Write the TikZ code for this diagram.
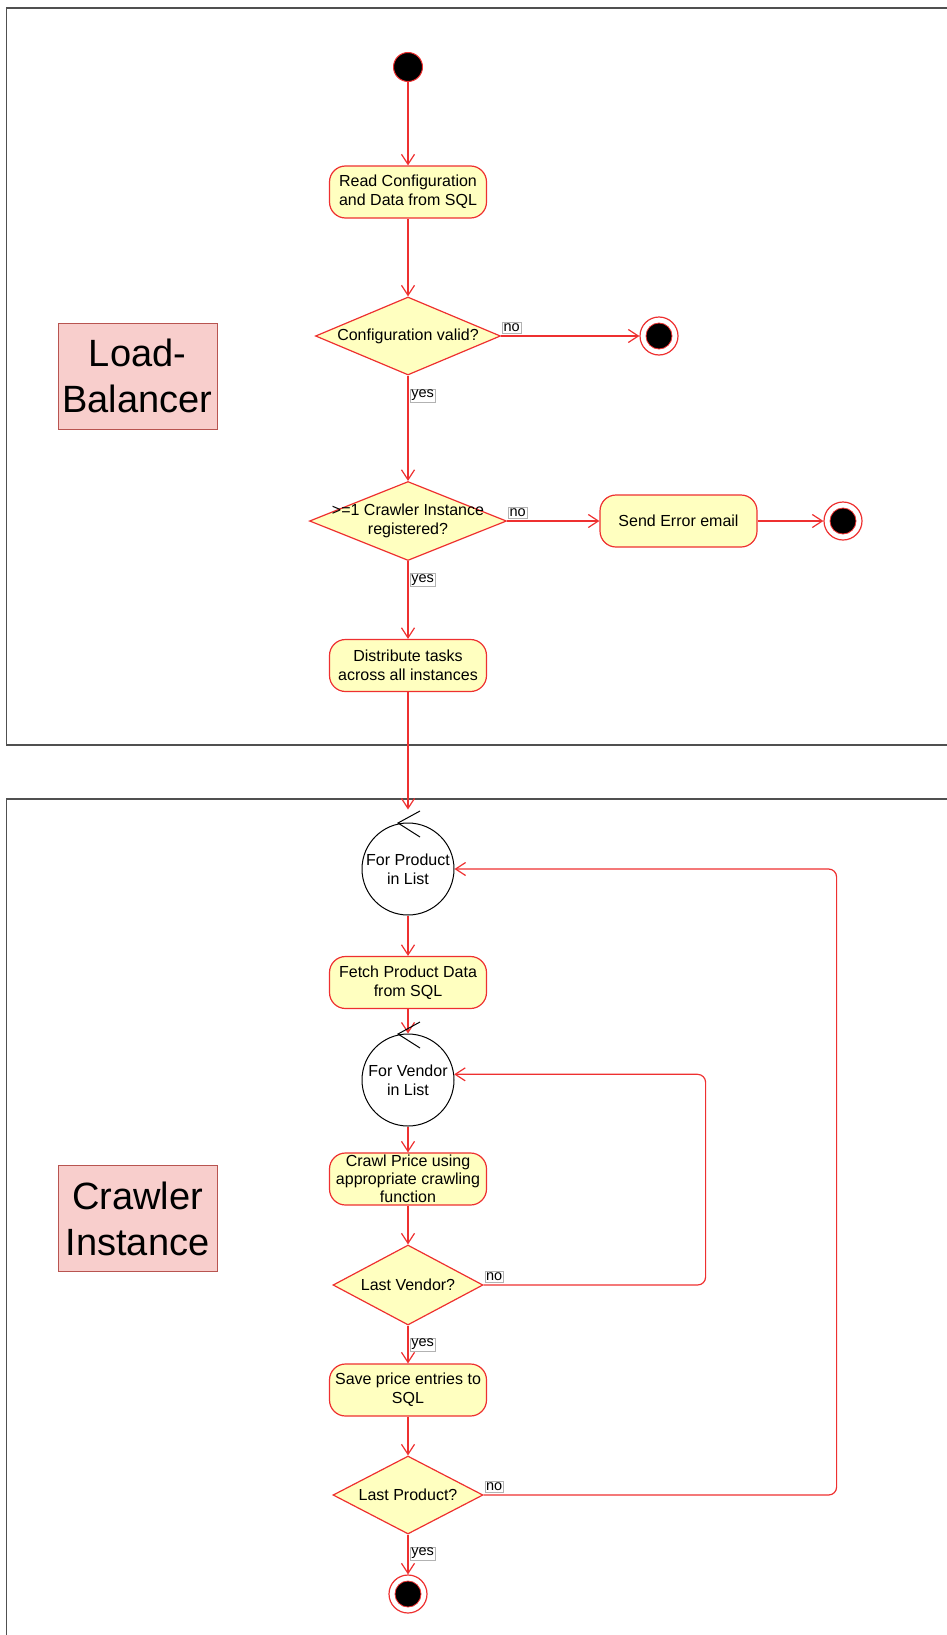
\documentclass[tikz,border=0pt]{standalone}
\usepackage{fontspec}
\setmainfont{Liberation Sans}
\usetikzlibrary{shapes.geometric, arrows.meta, calc}
\definecolor{umlred}{RGB}{238,48,48}
\definecolor{umlfill}{RGB}{255,255,192}
\definecolor{lanecol}{RGB}{80,80,80}
\definecolor{pinkfill}{RGB}{248,206,204}
\definecolor{pinkline}{RGB}{184,84,80}
\begin{document}
\begin{tikzpicture}[x=1pt,y=-1pt,
  flow/.style={draw=umlred, line width=1.2pt, -{Straight Barb[length=10pt,width=13pt,line width=1.2pt]}},
  act/.style={draw=umlred, fill=umlfill, line width=1.2pt, rounded corners=16pt, minimum width=157pt, minimum height=52pt, align=center, font=\fontsize{16}{19}\selectfont, inner sep=0pt},
  dec/.style={diamond, draw=umlred, fill=umlfill, line width=1.2pt, inner sep=0pt},
  dectext/.style={font=\fontsize{16}{19.5}\selectfont, align=center},
  lbl/.style={draw=gray!60, fill=white, font=\fontsize{14.5}{16}\selectfont, inner sep=1.2pt},
  initnode/.style={circle, fill=black, draw=umlred, line width=1pt, minimum size=29pt, inner sep=0pt},
  endnode/.style={circle, fill=white, draw=umlred, line width=1.2pt, minimum size=38pt, inner sep=0pt,
    path picture={\filldraw[fill=black, draw=umlred, line width=0.8pt] (path picture bounding box.center) circle (13pt);}},
  loopnode/.style={circle, draw=black, fill=white, line width=1pt, minimum size=92pt, inner sep=0pt, align=center, font=\fontsize{16}{19}\selectfont},
  lane/.style={draw=lanecol, line width=1.5pt},
  lanelbl/.style={draw=pinkline, fill=pinkfill, line width=1pt, minimum width=159pt, minimum height=106pt, align=center, inner sep=0pt, font=\fontsize{38}{46}\selectfont}
]
\useasboundingbox (0,0) rectangle (946,1635);
% swimlanes
\draw[lane] (6.5,8) rectangle (980,745);
\draw[lane] (6.5,799) rectangle (980,1680);
\node[lanelbl] (lbA) at (137.5,376) {Load-\\Balancer};
\node[lanelbl] (lbB) at (137.5,1218.5) {Crawler\\Instance};

% top lane
\node[initnode] (init) at (408,67) {};
\node[act] (read) at (408,192) {Read Configuration\\and Data from SQL};
\node[dec, minimum width=185pt, minimum height=78pt, label={[dectext]center:{Configuration valid?}}] (d1) at (408,336) {};
\node[endnode] (e1) at (659,336) {};
\node[dec, minimum width=197pt, minimum height=79pt, label={[dectext]center:{>=1 Crawler Instance\\registered?}}] (d2) at (408,521) {};
\node[act] (err) at (678.5,521) {Send Error email};
\node[endnode] (e2) at (843,521) {};
\node[act] (dist) at (408,665.5) {Distribute tasks\\across all instances};

% bottom lane
\node[loopnode] (loopP) at (408,869) {For Product\\in List};
\node[act] (fetch) at (408,982.5) {Fetch Product Data\\from SQL};
\node[loopnode] (loopV) at (408,1080) {For Vendor\\in List};
\node[act, font=\fontsize{16}{18}\selectfont] (crawl) at (408,1179) {Crawl Price using\\appropriate crawling\\function};
\node[dec, minimum width=150pt, minimum height=80pt, label={[dectext]center:{Last Vendor?}}] (d3) at (408,1285) {};
\node[act] (save) at (408,1390) {Save price entries to\\SQL};
\node[dec, minimum width=150pt, minimum height=78pt, label={[dectext]center:{Last Product?}}] (d4) at (408,1495) {};
\node[endnode] (e3) at (408,1594) {};

% connectors
\draw[flow] (init) -- (read);
\draw[flow] (read) -- (d1.north);
\draw[flow] (d1.east) -- (e1);
\draw[flow] (d1.south) -- (d2.north);
\draw[flow] (d2.east) -- (err);
\draw[flow] (err) -- (e2);
\draw[flow] (d2.south) -- (dist);
\draw[flow] (dist) -- ([yshift=13pt]loopP.north);
\draw[flow] (loopP) -- (fetch);
\draw[flow] (fetch) -- (loopV.north);
\draw[flow] (loopV) -- (crawl);
\draw[flow] (crawl) -- (d3.north);
\draw[flow] (d3.south) -- (save);
\draw[flow] (save) -- (d4.north);
\draw[flow] (d4.south) -- (e3);
\draw[flow, rounded corners=8pt] (d3.east) -- ++(222,0) |- (loopV.7.5);
\draw[flow, rounded corners=8pt] (d4.east) -- ++(353,0) |- (loopP.east);

% loop chevrons
\draw[black, line width=1pt] ([shift={(12,-58)}]loopP.center) -- ([shift={(-10,-46)}]loopP.center) -- ([shift={(12,-32)}]loopP.center);
\draw[black, line width=1pt] ([shift={(12,-58)}]loopV.center) -- ([shift={(-10,-46)}]loopV.center) -- ([shift={(12,-32)}]loopV.center);

% edge labels
\node[lbl, anchor=south west] (n1) at ([shift={(1,-3)}]d1.east) {no};
\node[lbl, anchor=north west] (y1) at ([shift={(2,13)}]d1.south) {yes};
\node[lbl, anchor=south west] (n2) at ([shift={(1,-3)}]d2.east) {no};
\node[lbl, anchor=north west] (y2) at ([shift={(2,12)}]d2.south) {yes};
\node[lbl, anchor=south west] (n3) at ([shift={(1,-3)}]d3.east) {no};
\node[lbl, anchor=north west] (y3) at ([shift={(2,12)}]d3.south) {yes};
\node[lbl, anchor=south west] (n4) at ([shift={(1,-3)}]d4.east) {no};
\node[lbl, anchor=north west] (y4) at ([shift={(2,12)}]d4.south) {yes};
\end{tikzpicture}
\end{document}
